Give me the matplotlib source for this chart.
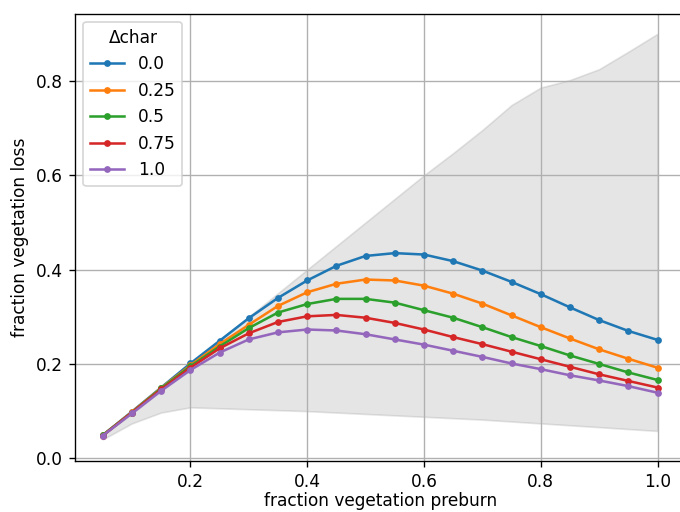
import matplotlib
matplotlib.use("Agg")
import matplotlib.pyplot as plt
import numpy as np

# === データ ===
veg_preburn = np.round(np.arange(1, 21) * 0.05, 2)
dchar_labels = ['0.0', '0.25', '0.5', '0.75', '1.0']

loss_00 = [0.049, 0.099, 0.150, 0.201, 0.249, 0.297, 0.340, 0.377, 0.408, 0.429,
           0.435, 0.432, 0.418, 0.398, 0.374, 0.348, 0.320, 0.293, 0.270, 0.251]
loss_025 = [0.049, 0.098, 0.149, 0.197, 0.242, 0.283, 0.323, 0.352, 0.370, 0.379,
            0.377, 0.366, 0.349, 0.328, 0.303, 0.278, 0.254, 0.231, 0.211, 0.192]
loss_05 = [0.049, 0.097, 0.148, 0.195, 0.237, 0.276, 0.309, 0.327, 0.338, 0.338,
           0.330, 0.314, 0.298, 0.278, 0.257, 0.238, 0.218, 0.200, 0.182, 0.166]
loss_075 = [0.048, 0.097, 0.146, 0.192, 0.233, 0.265, 0.289, 0.301, 0.304, 0.298,
            0.287, 0.273, 0.257, 0.242, 0.226, 0.210, 0.194, 0.178, 0.164, 0.150]
loss_10 = [0.048, 0.095, 0.143, 0.187, 0.224, 0.252, 0.267, 0.273, 0.271, 0.263,
           0.252, 0.241, 0.228, 0.215, 0.201, 0.189, 0.176, 0.165, 0.153, 0.139]

band_upper = [0.050, 0.100, 0.150, 0.200, 0.250, 0.300, 0.350, 0.400, 0.450, 0.500,
              0.550, 0.600, 0.647, 0.696, 0.749, 0.786, 0.802, 0.825, 0.862, 0.900]
band_lower = [0.040, 0.074, 0.097, 0.108, 0.106, 0.104, 0.102, 0.100, 0.097, 0.094,
              0.091, 0.088, 0.085, 0.082, 0.078, 0.074, 0.070, 0.066, 0.062, 0.058]

series = [loss_00, loss_025, loss_05, loss_075, loss_10]

# === グラフ描画 ===
dpi = 122
fig = plt.figure(figsize=(680 / dpi, 512 / dpi), dpi=dpi)
ax = fig.add_axes([0.1103, 0.099, 0.8975, 0.8746])

ax.fill_between(veg_preburn, band_lower, band_upper, color='gray', alpha=0.2)
for lab, vals in zip(dchar_labels, series):
    ax.plot(veg_preburn, vals, marker='.', label=lab)

ax.set_xlim(0.0025, 1.0475)
ax.set_ylim(-0.0064, 0.943)
ax.set_xlabel('fraction vegetation preburn', labelpad=0.5)
ax.set_ylabel('fraction vegetation loss')
ax.legend(title='Δchar', loc='upper left')
ax.grid(True)

fig.savefig('out.png', dpi=dpi)
